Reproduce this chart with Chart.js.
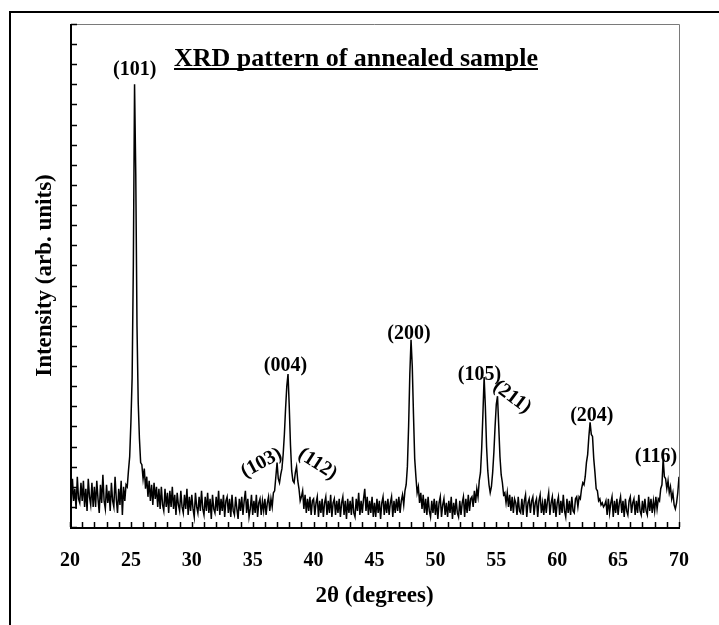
<!DOCTYPE html>
<html><head><meta charset="utf-8">
<script src="https://cdn.jsdelivr.net/npm/chart.js@4.4.0/dist/chart.umd.min.js"></script>
<style>html,body{margin:0;padding:0;background:#fff;} #wrap{width:719px;height:625px;position:relative;}</style>
</head><body><div id="wrap"><canvas id="c" width="719" height="625"></canvas></div>
<script>
// Scan grid of the diffractometer (2θ, degrees)
const scanStart = 20;
const scanStep = 0.1;
// Intensity (arb. units), one row per degree (d.0 … d.9)
const intensity = [
2.1,1.1,2.4,1.3,1.9,0.9,2.5,1.4,1.2,2.2,
1.3,2.3,1.0,1.9,0.8,2.4,1.5,1.1,2.2,1.0,
2.0,1.0,2.3,1.4,0.7,2.1,1.2,2.6,1.3,0.9,
2.1,1.2,1.8,0.8,2.2,1.3,1.0,2.5,1.4,0.7,
1.9,1.1,2.3,0.6,2.0,1.3,2.1,2.0,2.8,3.5,
5.2,7.4,13.0,22.0,17.5,10.0,6.2,4.4,3.2,3.1,
2.4,2.9,1.9,2.5,1.5,2.3,1.3,2.1,1.1,2.2,
1.4,2.0,1.0,1.9,0.9,2.0,1.1,0.8,1.9,1.0,
1.7,0.7,1.8,1.0,2.0,0.9,1.6,0.6,1.7,1.1,
0.8,1.8,1.0,0.7,1.6,0.9,1.9,0.6,1.5,0.8,
1.6,0.9,0.5,1.7,1.0,0.7,1.5,0.8,1.8,0.9,
0.6,1.5,0.8,1.7,0.7,1.4,0.4,1.6,0.9,0.7,
1.5,0.8,1.8,0.6,1.4,0.8,1.6,0.5,1.3,1.5,
0.7,1.4,0.5,1.6,0.8,0.6,1.5,0.9,0.4,1.4,
0.8,1.5,0.6,1.3,1.8,0.7,1.4,0.5,0.9,1.6,
0.6,1.3,0.7,1.6,0.5,1.2,1.4,0.6,1.3,0.8,
1.4,0.6,1.2,1.5,0.8,1.4,1.0,1.7,1.8,2.5,
3.2,2.4,2.2,2.6,2.9,3.6,4.6,5.9,7.0,7.6,
6.0,4.1,2.8,2.3,2.2,2.7,3.0,2.3,1.9,1.3,
1.5,1.8,0.9,1.6,0.7,1.4,0.8,1.5,0.6,1.3,
1.4,0.6,1.2,1.5,0.5,1.3,0.7,1.4,0.5,1.2,
1.5,0.6,1.3,0.7,1.6,0.5,1.2,1.4,0.6,1.3,
0.7,1.4,0.5,1.2,1.5,0.6,1.3,0.4,1.4,0.7,
1.3,0.6,1.5,0.7,0.5,1.4,0.8,1.7,0.6,1.3,
0.7,1.4,1.9,0.8,1.5,0.6,1.3,0.7,1.5,0.5,
1.2,0.5,1.4,0.7,1.3,0.4,1.2,1.5,0.6,1.3,
0.7,1.4,0.6,1.2,1.5,0.5,1.3,0.7,1.4,0.8,
1.5,0.7,1.3,1.6,1.1,1.8,2.1,3.0,5.0,7.6,
9.3,8.0,5.6,3.4,2.5,1.7,2.0,1.2,1.7,0.9,
1.6,0.7,1.4,0.6,1.5,0.8,0.5,1.3,0.7,1.4,
0.6,1.3,0.4,1.2,1.5,0.5,1.1,1.4,0.6,1.2,
0.5,1.3,0.7,1.5,0.4,1.2,0.6,1.4,0.7,0.5,
1.3,0.6,1.2,1.5,0.5,1.4,0.7,1.6,0.8,1.4,
1.5,1.0,1.8,1.2,1.9,1.5,2.3,2.7,3.9,5.6,
7.45,6.0,4.0,2.8,2.1,1.7,2.0,2.7,3.7,5.0,
6.1,6.5,5.0,3.5,2.6,2.2,1.6,1.7,1.2,1.7,
1.0,1.6,0.8,1.5,0.7,1.4,1.2,0.6,1.5,0.8,
0.7,1.4,0.6,1.3,1.6,0.5,1.2,1.4,0.7,1.3,
1.5,0.6,1.2,1.4,0.5,1.3,1.6,0.7,1.2,0.6,
1.4,0.7,1.3,1.7,0.6,1.2,1.5,0.7,1.4,0.5,
1.2,1.5,0.6,1.3,0.7,1.6,0.8,0.5,1.4,0.7,
1.3,0.6,1.5,0.8,0.7,1.4,1.5,1.0,1.5,1.4,
1.9,2.2,2.1,2.5,3.2,3.6,4.5,5.2,4.6,4.5,
3.4,2.7,1.9,1.8,1.3,1.4,1.1,1.2,1.0,1.1,
1.3,0.6,1.4,0.7,1.2,1.5,0.5,1.3,0.7,1.4,
0.6,1.2,1.5,0.7,1.3,0.5,1.4,0.8,0.6,1.3,
1.5,0.7,1.2,1.4,0.6,1.3,0.7,1.6,0.8,0.6,
1.3,0.7,1.4,0.8,0.6,1.5,0.8,1.4,0.7,1.3,
0.8,1.5,0.9,1.4,1.3,1.9,2.1,3.4,2.5,2.4,
1.9,2.3,1.7,2.0,1.4,1.7,1.1,0.9,1.2,1.7,
2.5
];
const xTickLabels = ['20','25','30','35','40','45','50','55','60','65','70'];
// Miller-index labels and where they sit (2θ, intensity), with text tilt in degrees
const peakLabels = ['(101)','(103)','(004)','(112)','(200)','(105)','(211)','(204)','(116)'];
const peakLabelX = [25.31, 35.72, 37.69, 40.32, 47.83, 53.62, 56.29, 62.84, 68.11];
const peakLabelY = [22.74, 3.18, 8.0, 3.13, 9.6, 7.58, 6.46, 5.54, 3.48];
const peakLabelTilt = [0, -28, 0, 33, 0, 0, 37, 0, 0];
const chartTitle = 'XRD pattern of annealed sample';

const SERIF = '"Liberation Serif", "Times New Roman", serif';

const decor = {
  id: 'decor',
  afterDraw(chart) {
    const {ctx, chartArea: a, scales: {x, y}} = chart;
    ctx.save();
    // outer frame (left and top only visible)
    ctx.fillStyle = '#000';
    ctx.fillRect(9, 11, 2, 614);
    ctx.fillRect(9, 11, 710, 2);
    // plot box: gray top/right
    ctx.strokeStyle = '#7a7a7a';
    ctx.lineWidth = 1;
    ctx.beginPath();
    ctx.moveTo(a.left, a.top + 0.5);
    ctx.lineTo(a.right + 0.5, a.top + 0.5);
    ctx.lineTo(a.right + 0.5, a.bottom);
    ctx.stroke();
    // axes
    ctx.strokeStyle = '#000';
    ctx.lineWidth = 2;
    ctx.beginPath();
    ctx.moveTo(a.left + 1, a.top);
    ctx.lineTo(a.left + 1, a.bottom + 2);
    ctx.moveTo(a.left, a.bottom + 1);
    ctx.lineTo(a.right + 1, a.bottom + 1);
    ctx.stroke();
    // inward tick marks
    ctx.lineWidth = 1.5;
    ctx.beginPath();
    x.ticks.forEach(t => {
      const px = Math.round(x.getPixelForValue(t.value)) + 0.5;
      ctx.moveTo(px, a.bottom);
      ctx.lineTo(px, a.bottom - 5);
    });
    y.ticks.forEach(t => {
      const py = Math.round(y.getPixelForValue(t.value)) + 0.5;
      ctx.moveTo(a.left + 1, py);
      ctx.lineTo(a.left + 7, py);
    });
    ctx.stroke();
    // title, underlined
    ctx.fillStyle = '#000';
    ctx.font = 'bold 26px ' + SERIF;
    ctx.textAlign = 'center';
    ctx.textBaseline = 'alphabetic';
    const tx = 356, ty = 66;
    ctx.fillText(chartTitle, tx, ty);
    const w = ctx.measureText(chartTitle).width;
    ctx.fillRect(tx - w / 2, ty + 2, w, 2);
    // peak labels
    ctx.font = 'bold 20px ' + SERIF;
    ctx.textBaseline = 'middle';
    peakLabels.forEach((lab, i) => {
      const px = x.getPixelForValue(peakLabelX[i]);
      const py = y.getPixelForValue(peakLabelY[i]);
      ctx.save();
      ctx.translate(px, py);
      ctx.rotate(peakLabelTilt[i] * Math.PI / 180);
      ctx.fillText(lab, 0, 0);
      ctx.restore();
    });
    ctx.restore();
  }
};

new Chart(document.getElementById('c'), {
  type: 'line',
  data: {
    datasets: [{
      data: intensity.map((v, i) => ({x: scanStart + i * scanStep, y: v})),
      borderColor: '#000',
      borderWidth: 1.5,
      pointRadius: 0,
      tension: 0,
      fill: false
    }]
  },
  options: {
    responsive: false,
    animation: false,
    devicePixelRatio: 1,
    layout: {padding: {left: 0, top: 24, right: 40, bottom: 0}},
    plugins: {legend: {display: false}, tooltip: {enabled: false}},
    scales: {
      x: {
        type: 'linear', position: 'bottom', min: 20, max: 70,
        grid: {display: false, drawTicks: false},
        border: {display: false},
        ticks: {
          stepSize: 1, autoSkip: false, maxRotation: 0, minRotation: 0,
          color: '#000', padding: 22,
          font: {family: SERIF, weight: 'bold', size: 20},
          callback: v => xTickLabels.includes(String(v)) ? String(v) : ''
        },
        title: {display: true, text: '2θ (degrees)', color: '#000',
          font: {family: SERIF, weight: 'bold', size: 23}, padding: {top: 0, bottom: 15}},
        afterFit: s => { s.height = 98; }
      },
      y: {
        type: 'linear', min: 0, max: 25,
        grid: {display: false, drawTicks: false},
        border: {display: false},
        ticks: {stepSize: 1, display: false},
        title: {display: true, text: 'Intensity (arb. units)', color: '#000',
          font: {family: SERIF, weight: 'bold', size: 23}, padding: {top: 31, bottom: 0}},
        afterFit: s => { s.width = 70; }
      }
    }
  },
  plugins: [decor]
});
</script></body></html>
